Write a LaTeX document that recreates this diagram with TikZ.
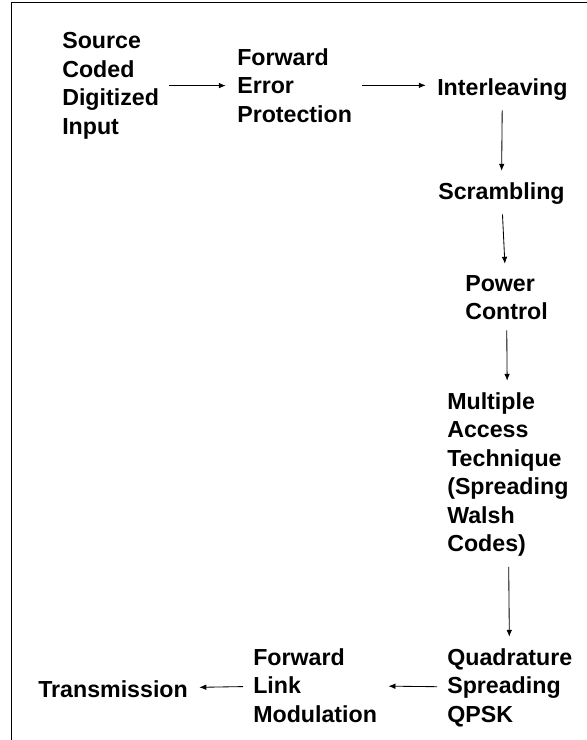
\documentclass[tikz,border=0pt]{standalone}
\usepackage{fontspec}
\setmainfont{Liberation Sans}
\usepackage{tikz}
\usetikzlibrary{arrows.meta}

\begin{document}
\begin{tikzpicture}[
  blk/.style={anchor=north west, inner sep=0pt, align=left, font=\fontsize{16.5}{20.3}\selectfont\bfseries},
  arr/.style={-{Latex[length=5pt,width=4pt]}, line width=0.6pt, shorten <=0.25cm, shorten >=0.28cm}]
\useasboundingbox (0,0) rectangle (14.65,-18.5);
\draw[line width=0.9pt] (0.29,-18.6) |- (14.8,-0.06);
\node[blk] (src)  at (1.55,-0.80)   {Source\\Coded\\Digitized\\Input};
\node[blk] (fec)  at (5.925,-1.20)  {Forward\\Error\\Protection};
\node[blk] (intl) at (10.925,-1.95) {Interleaving};
\node[blk] (scr)  at (10.95,-4.55)  {Scrambling};
\node[blk] (pwr)  at (11.625,-6.875) {Power\\Control};
\node[blk] (mac)  at (11.175,-9.80) {Multiple\\Access\\Technique\\(Spreading\\Walsh\\Codes)};
\node[blk] (qsp)  at (11.175,-16.20) {Quadrature\\Spreading\\QPSK};
\node[blk] (flm)  at (6.325,-16.20) {Forward\\Link\\Modulation};
\node[blk] (tx)   at (0.95,-17.00)  {Transmission};
\draw[arr] (src) -- (src -| fec.west);
\draw[arr] (fec) -- (fec -| intl.west);
\draw[arr] (intl) -- (scr);
\draw[arr] (scr) -- (pwr);
\draw[arr] (pwr) -- (mac);
\draw[arr] (mac) -- (qsp);
\draw[arr] (qsp) -- (flm);
\draw[arr] (flm) -- (tx);
\end{tikzpicture}
\end{document}
